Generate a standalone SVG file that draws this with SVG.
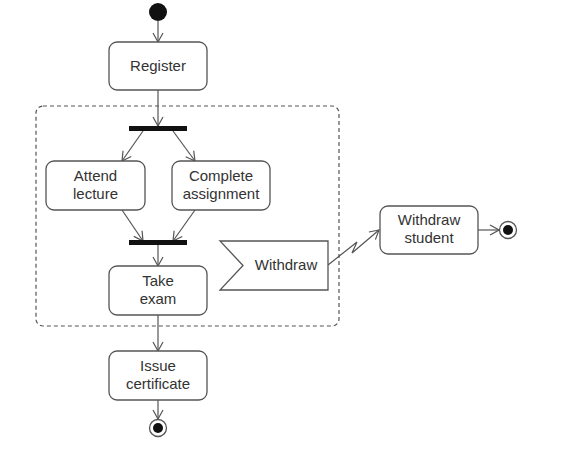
<svg xmlns="http://www.w3.org/2000/svg" width="567" height="450" viewBox="0 0 567 450">
<defs>
<marker id="arr" markerWidth="12" markerHeight="12" viewBox="0 0 12 12" refX="11" refY="6" orient="auto" markerUnits="userSpaceOnUse">
<path d="M2,1 L11,6 L2,11" fill="none" stroke="#555" stroke-width="1.2"/>
</marker>
<style>
.act{fill:#fff;stroke:#555;stroke-width:1.3}
.txt{font-family:"Liberation Sans",Arial,sans-serif;font-size:15px;fill:#333;text-anchor:middle}
.ln{fill:none;stroke:#555;stroke-width:1.2;marker-end:url(#arr)}
.bar{fill:#111}
</style>
</defs>
<rect width="567" height="450" fill="#fff"/>
<g id="region">
<rect x="36" y="106" width="303" height="220" rx="7" fill="none" stroke="#555" stroke-width="1.2" stroke-dasharray="4,3"/>
</g>
<g id="connectors">
<line class="ln" x1="158" y1="21" x2="158" y2="42"/>
<line class="ln" x1="158" y1="90" x2="158" y2="126"/>
<line class="ln" x1="143" y1="131" x2="122" y2="161"/>
<line class="ln" x1="173" y1="131" x2="195" y2="161"/>
<line class="ln" x1="122" y1="210" x2="143" y2="241"/>
<line class="ln" x1="195" y1="210" x2="173" y2="241"/>
<line class="ln" x1="158" y1="245" x2="158" y2="266"/>
<line class="ln" x1="158" y1="315" x2="158" y2="351"/>
<line class="ln" x1="158" y1="400" x2="158" y2="419"/>
<polyline class="ln" points="328,265 357,242 352,253 379,230"/>
<line class="ln" x1="478" y1="230" x2="499" y2="230"/>
</g>
<g id="initial"><circle cx="158" cy="12" r="9" fill="#111"/></g>
<g id="register">
<rect class="act" x="109" y="42" width="98" height="48" rx="8"/>
<text class="txt" x="158" y="71">Register</text>
</g>
<g id="fork"><rect class="bar" x="129" y="126" width="58" height="5"/></g>
<g id="attend">
<rect class="act" x="46" y="161" width="99" height="49" rx="8"/>
<text class="txt" x="95.5" y="181">Attend</text>
<text class="txt" x="95.5" y="199">lecture</text>
</g>
<g id="complete">
<rect class="act" x="172" y="161" width="98" height="49" rx="8"/>
<text class="txt" x="221" y="181">Complete</text>
<text class="txt" x="221" y="199">assignment</text>
</g>
<g id="join"><rect class="bar" x="129" y="240" width="58" height="5"/></g>
<g id="take-exam">
<rect class="act" x="109" y="266" width="98" height="49" rx="8"/>
<text class="txt" x="158" y="286">Take</text>
<text class="txt" x="158" y="304">exam</text>
</g>
<g id="withdraw">
<polygon class="act" points="220,241 328,241 328,290 220,290 243,265.5"/>
<text class="txt" x="286" y="270">Withdraw</text>
</g>
<g id="withdraw-student">
<rect class="act" x="380" y="206" width="98" height="48" rx="8"/>
<text class="txt" x="429" y="225">Withdraw</text>
<text class="txt" x="429" y="243">student</text>
</g>
<g id="final-withdraw">
<circle cx="508" cy="230" r="8.5" fill="#fff" stroke="#555" stroke-width="1.3"/>
<circle cx="508" cy="230" r="5" fill="#111"/>
</g>
<g id="issue">
<rect class="act" x="109" y="351" width="98" height="49" rx="8"/>
<text class="txt" x="158" y="371">Issue</text>
<text class="txt" x="158" y="389">certificate</text>
</g>
<g id="final">
<circle cx="158" cy="428" r="8.5" fill="#fff" stroke="#555" stroke-width="1.3"/>
<circle cx="158" cy="428" r="5" fill="#111"/>
</g>
</svg>
